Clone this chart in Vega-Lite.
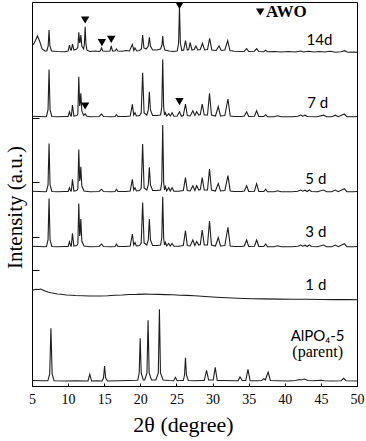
{
"$schema": "https://vega.github.io/schema/vega-lite/v6.json",
"width": 325, "height": 384,
"autosize": {"type": "none"},
"padding": {"left": 32, "top": 2, "right": 9, "bottom": 55},
"config": {
"view": {"stroke": "black", "strokeWidth": 1},
"background": "white",
"axis": {"grid": false, "tickColor": "black", "domainColor": "black", "labelColor": "black", "titleColor": "black", "labelFont": "Liberation Serif, Times New Roman, DejaVu Serif, serif", "titleFont": "Liberation Serif, Times New Roman, DejaVu Serif, serif", "titleFontWeight": "normal", "labelOverlap": false, "labelFlush": false},
"axisX": {"labelFontSize": 14, "titleFontSize": 22, "tickSize": -3, "labelPadding": 9, "titlePadding": 8, "titleX": 151},
"axisY": {"titleFontSize": 21, "tickSize": -7, "titlePadding": 6, "labels": false, "titleY": 205}
},
"datasets": {
"xrd": [
{"s":"parent","x":5,"y":5.5},{"s":"parent","x":6.5,"y":5.3},{"s":"parent","x":7.2,"y":5.2},{"s":"parent","x":7.45,"y":12},{"s":"parent","x":7.62,"y":57.7},{"s":"parent","x":7.79,"y":12},{"s":"parent","x":8.05,"y":5.2},{"s":"parent","x":9.5,"y":5},{"s":"parent","x":11,"y":5.2},{"s":"parent","x":12.5,"y":5},{"s":"parent","x":12.75,"y":5},{"s":"parent","x":13.0,"y":11.7},{"s":"parent","x":13.25,"y":5},{"s":"parent","x":14,"y":5.3},{"s":"parent","x":14.7,"y":5},{"s":"parent","x":14.9,"y":8},{"s":"parent","x":15.05,"y":20},{"s":"parent","x":15.2,"y":8},{"s":"parent","x":15.45,"y":5},{"s":"parent","x":17,"y":5.2},{"s":"parent","x":18.5,"y":5.5},{"s":"parent","x":19.5,"y":5.8},{"s":"parent","x":19.65,"y":6},{"s":"parent","x":19.84,"y":13},{"s":"parent","x":19.98,"y":47.7},{"s":"parent","x":20.12,"y":13},{"s":"parent","x":20.4,"y":6},{"s":"parent","x":20.6,"y":6},{"s":"parent","x":20.92,"y":13},{"s":"parent","x":21.07,"y":65.7},{"s":"parent","x":21.22,"y":13},{"s":"parent","x":21.55,"y":6},{"s":"parent","x":22.15,"y":6},{"s":"parent","x":22.49,"y":13},{"s":"parent","x":22.64,"y":76.7},{"s":"parent","x":22.79,"y":13},{"s":"parent","x":23.15,"y":6},{"s":"parent","x":24.0,"y":5.5},{"s":"parent","x":24.6,"y":5.3},{"s":"parent","x":24.86,"y":8.7},{"s":"parent","x":25.1,"y":5.3},{"s":"parent","x":25.7,"y":5.5},{"s":"parent","x":25.95,"y":5.5},{"s":"parent","x":26.12,"y":11},{"s":"parent","x":26.25,"y":28.3},{"s":"parent","x":26.38,"y":11},{"s":"parent","x":26.65,"y":5.5},{"s":"parent","x":27.5,"y":5.3},{"s":"parent","x":28.5,"y":5.5},{"s":"parent","x":28.85,"y":5.5},{"s":"parent","x":29.17,"y":15.7},{"s":"parent","x":29.45,"y":6},{"s":"parent","x":30.1,"y":6},{"s":"parent","x":30.37,"y":18.7},{"s":"parent","x":30.65,"y":5.5},{"s":"parent","x":31.5,"y":5.5},{"s":"parent","x":33,"y":5.3},{"s":"parent","x":33.55,"y":5.3},{"s":"parent","x":33.8,"y":9},{"s":"parent","x":34.1,"y":5.5},{"s":"parent","x":34.6,"y":5.5},{"s":"parent","x":34.9,"y":16.7},{"s":"parent","x":35.2,"y":5.3},{"s":"parent","x":36.2,"y":5.2},{"s":"parent","x":36.8,"y":5.5},{"s":"parent","x":37.1,"y":7.3},{"s":"parent","x":37.3,"y":6},{"s":"parent","x":37.7,"y":14},{"s":"parent","x":38.0,"y":5.5},{"s":"parent","x":39,"y":5.3},{"s":"parent","x":40.5,"y":5},{"s":"parent","x":41.5,"y":5.5},{"s":"parent","x":42.0,"y":6.5},{"s":"parent","x":42.3,"y":6},{"s":"parent","x":42.7,"y":7},{"s":"parent","x":43.2,"y":5.5},{"s":"parent","x":44,"y":5.3},{"s":"parent","x":45,"y":5.8},{"s":"parent","x":45.5,"y":5.2},{"s":"parent","x":46.5,"y":5},{"s":"parent","x":47.8,"y":5.3},{"s":"parent","x":48.15,"y":7.7},{"s":"parent","x":48.5,"y":5.2},{"s":"parent","x":50,"y":5},

{"s":"1d","x":5,"y":95.3},{"s":"1d","x":5.3,"y":96.2},{"s":"1d","x":5.6,"y":96.8},{"s":"1d","x":5.9,"y":96.5},{"s":"1d","x":6.2,"y":96.9},{"s":"1d","x":6.5,"y":96},{"s":"1d","x":6.8,"y":95},{"s":"1d","x":7.2,"y":94},{"s":"1d","x":7.6,"y":93.2},{"s":"1d","x":8,"y":92.8},{"s":"1d","x":8.5,"y":92},{"s":"1d","x":9,"y":91.7},{"s":"1d","x":9.8,"y":91},{"s":"1d","x":10.5,"y":90.8},{"s":"1d","x":11,"y":90.5},{"s":"1d","x":12,"y":90.3},{"s":"1d","x":13,"y":90},{"s":"1d","x":14.4,"y":90},{"s":"1d","x":15.5,"y":90.3},{"s":"1d","x":16.5,"y":90.8},{"s":"1d","x":17.5,"y":91},{"s":"1d","x":18.5,"y":91.5},{"s":"1d","x":19.5,"y":91.6},{"s":"1d","x":20.5,"y":91.9},{"s":"1d","x":21.5,"y":91.7},{"s":"1d","x":22.5,"y":91.6},{"s":"1d","x":23.5,"y":91.4},{"s":"1d","x":24.5,"y":91.2},{"s":"1d","x":25.5,"y":90.8},{"s":"1d","x":26.5,"y":90.6},{"s":"1d","x":27.5,"y":90.2},{"s":"1d","x":28.5,"y":89.7},{"s":"1d","x":29.5,"y":89.2},{"s":"1d","x":30.6,"y":88.7},{"s":"1d","x":32,"y":88.2},{"s":"1d","x":33.5,"y":87.7},{"s":"1d","x":35.3,"y":87.3},{"s":"1d","x":37,"y":87.1},{"s":"1d","x":39,"y":86.9},{"s":"1d","x":41,"y":86.8},{"s":"1d","x":43,"y":86.7},{"s":"1d","x":45,"y":86.5},{"s":"1d","x":47,"y":86.4},{"s":"1d","x":49,"y":86.4},{"s":"1d","x":50,"y":86.3},

{"s":"3d","x":5,"y":139.8},{"s":"3d","x":6,"y":139.5},{"s":"3d","x":6.8,"y":139.3},{"s":"3d","x":7.0,"y":139.5},{"s":"3d","x":7.22,"y":146},{"s":"3d","x":7.36,"y":187.6},{"s":"3d","x":7.5,"y":146},{"s":"3d","x":7.75,"y":139.5},{"s":"3d","x":8.5,"y":139.3},{"s":"3d","x":9.5,"y":139.5},{"s":"3d","x":10.0,"y":139.5},{"s":"3d","x":10.19,"y":144.3},{"s":"3d","x":10.35,"y":140},{"s":"3d","x":10.45,"y":140},{"s":"3d","x":10.6,"y":152.6},{"s":"3d","x":10.8,"y":140},{"s":"3d","x":11.2,"y":140.5},{"s":"3d","x":11.35,"y":142},{"s":"3d","x":11.48,"y":182.6},{"s":"3d","x":11.6,"y":150},{"s":"3d","x":11.66,"y":152},{"s":"3d","x":11.76,"y":167},{"s":"3d","x":11.9,"y":145},{"s":"3d","x":12.2,"y":140},{"s":"3d","x":13,"y":139.3},{"s":"3d","x":14.3,"y":139.5},{"s":"3d","x":14.63,"y":142},{"s":"3d","x":14.9,"y":139.5},{"s":"3d","x":16,"y":139.3},{"s":"3d","x":16.5,"y":139.5},{"s":"3d","x":16.7,"y":142},{"s":"3d","x":16.9,"y":139.5},{"s":"3d","x":18,"y":139.5},{"s":"3d","x":18.6,"y":140},{"s":"3d","x":18.9,"y":152},{"s":"3d","x":19.08,"y":141},{"s":"3d","x":19.26,"y":143.5},{"s":"3d","x":19.45,"y":140},{"s":"3d","x":19.9,"y":140.5},{"s":"3d","x":20.12,"y":143},{"s":"3d","x":20.32,"y":183.6},{"s":"3d","x":20.52,"y":143},{"s":"3d","x":20.9,"y":141},{"s":"3d","x":21.1,"y":146},{"s":"3d","x":21.25,"y":167},{"s":"3d","x":21.4,"y":146},{"s":"3d","x":21.7,"y":140.5},{"s":"3d","x":22.3,"y":140.5},{"s":"3d","x":22.8,"y":141},{"s":"3d","x":22.97,"y":148},{"s":"3d","x":23.1,"y":189.3},{"s":"3d","x":23.23,"y":148},{"s":"3d","x":23.35,"y":141},{"s":"3d","x":23.47,"y":143.5},{"s":"3d","x":23.65,"y":140},{"s":"3d","x":23.93,"y":142.5},{"s":"3d","x":24.15,"y":140},{"s":"3d","x":24.4,"y":142.5},{"s":"3d","x":24.65,"y":139.8},{"s":"3d","x":25.3,"y":139.8},{"s":"3d","x":25.95,"y":140.5},{"s":"3d","x":26.25,"y":155.3},{"s":"3d","x":26.5,"y":140.5},{"s":"3d","x":26.9,"y":140},{"s":"3d","x":27.27,"y":146},{"s":"3d","x":27.55,"y":140.5},{"s":"3d","x":27.8,"y":144.5},{"s":"3d","x":28.1,"y":141},{"s":"3d","x":28.3,"y":141.5},{"s":"3d","x":28.57,"y":156},{"s":"3d","x":28.85,"y":141},{"s":"3d","x":29.3,"y":141},{"s":"3d","x":29.58,"y":165},{"s":"3d","x":29.85,"y":141},{"s":"3d","x":30.4,"y":140},{"s":"3d","x":30.79,"y":148.3},{"s":"3d","x":31.1,"y":140},{"s":"3d","x":31.7,"y":140.5},{"s":"3d","x":32.13,"y":158.6},{"s":"3d","x":32.45,"y":140},{"s":"3d","x":33,"y":139.5},{"s":"3d","x":34,"y":139.5},{"s":"3d","x":34.4,"y":140},{"s":"3d","x":34.72,"y":146},{"s":"3d","x":35,"y":139.5},{"s":"3d","x":35.8,"y":139.8},{"s":"3d","x":36.1,"y":146},{"s":"3d","x":36.4,"y":139.5},{"s":"3d","x":37.1,"y":139.5},{"s":"3d","x":37.36,"y":142},{"s":"3d","x":37.6,"y":139.3},{"s":"3d","x":38.5,"y":139.3},{"s":"3d","x":39,"y":140.3},{"s":"3d","x":39.5,"y":139.3},{"s":"3d","x":41,"y":139.3},{"s":"3d","x":41.8,"y":139.8},{"s":"3d","x":42.2,"y":141},{"s":"3d","x":42.5,"y":139.8},{"s":"3d","x":42.8,"y":140.8},{"s":"3d","x":43.1,"y":139.5},{"s":"3d","x":43.4,"y":141},{"s":"3d","x":43.7,"y":139.5},{"s":"3d","x":44.5,"y":139.3},{"s":"3d","x":45.37,"y":141},{"s":"3d","x":45.8,"y":139.3},{"s":"3d","x":46.5,"y":139.3},{"s":"3d","x":47,"y":141},{"s":"3d","x":47.4,"y":139.3},{"s":"3d","x":48.24,"y":142.3},{"s":"3d","x":48.6,"y":139.3},{"s":"3d","x":49.5,"y":139.3},{"s":"3d","x":50,"y":139.5},

{"s":"5d","x":5,"y":194.8},{"s":"5d","x":6,"y":194.5},{"s":"5d","x":6.8,"y":194.3},{"s":"5d","x":7.0,"y":194.5},{"s":"5d","x":7.22,"y":201},{"s":"5d","x":7.36,"y":242.6},{"s":"5d","x":7.5,"y":201},{"s":"5d","x":7.75,"y":194.5},{"s":"5d","x":8.5,"y":194.3},{"s":"5d","x":9.5,"y":194.5},{"s":"5d","x":10,"y":194.5},{"s":"5d","x":10.19,"y":198.3},{"s":"5d","x":10.35,"y":195},{"s":"5d","x":10.45,"y":195},{"s":"5d","x":10.6,"y":206.6},{"s":"5d","x":10.8,"y":195},{"s":"5d","x":11.2,"y":195.5},{"s":"5d","x":11.35,"y":197},{"s":"5d","x":11.48,"y":236.6},{"s":"5d","x":11.6,"y":205},{"s":"5d","x":11.66,"y":207},{"s":"5d","x":11.76,"y":219.3},{"s":"5d","x":11.9,"y":200},{"s":"5d","x":12.2,"y":195},{"s":"5d","x":13,"y":194.3},{"s":"5d","x":14.3,"y":194.5},{"s":"5d","x":14.63,"y":196.8},{"s":"5d","x":14.9,"y":194.5},{"s":"5d","x":16,"y":194.3},{"s":"5d","x":16.5,"y":194.5},{"s":"5d","x":16.7,"y":196.8},{"s":"5d","x":16.9,"y":194.5},{"s":"5d","x":18,"y":194.5},{"s":"5d","x":18.6,"y":195},{"s":"5d","x":18.9,"y":206.6},{"s":"5d","x":19.08,"y":196},{"s":"5d","x":19.26,"y":198.3},{"s":"5d","x":19.45,"y":195},{"s":"5d","x":19.9,"y":195.5},{"s":"5d","x":20.12,"y":198},{"s":"5d","x":20.32,"y":242},{"s":"5d","x":20.52,"y":198},{"s":"5d","x":20.9,"y":196},{"s":"5d","x":21.1,"y":201},{"s":"5d","x":21.25,"y":218.6},{"s":"5d","x":21.4,"y":201},{"s":"5d","x":21.7,"y":195.5},{"s":"5d","x":22.3,"y":195.5},{"s":"5d","x":22.8,"y":196},{"s":"5d","x":22.97,"y":204},{"s":"5d","x":23.1,"y":261},{"s":"5d","x":23.23,"y":204},{"s":"5d","x":23.35,"y":196},{"s":"5d","x":23.47,"y":199.3},{"s":"5d","x":23.65,"y":195},{"s":"5d","x":23.93,"y":198.3},{"s":"5d","x":24.15,"y":195},{"s":"5d","x":24.4,"y":198.3},{"s":"5d","x":24.65,"y":194.8},{"s":"5d","x":25.3,"y":194.8},{"s":"5d","x":25.95,"y":195.5},{"s":"5d","x":26.25,"y":208.3},{"s":"5d","x":26.5,"y":195.5},{"s":"5d","x":26.9,"y":195},{"s":"5d","x":27.27,"y":200.3},{"s":"5d","x":27.55,"y":195.5},{"s":"5d","x":27.8,"y":200.3},{"s":"5d","x":28.1,"y":196},{"s":"5d","x":28.3,"y":196.5},{"s":"5d","x":28.57,"y":208.3},{"s":"5d","x":28.85,"y":196},{"s":"5d","x":29.3,"y":196},{"s":"5d","x":29.58,"y":217},{"s":"5d","x":29.85,"y":196},{"s":"5d","x":30.4,"y":195},{"s":"5d","x":30.79,"y":202.6},{"s":"5d","x":31.1,"y":195},{"s":"5d","x":31.7,"y":195.5},{"s":"5d","x":32.13,"y":210.3},{"s":"5d","x":32.45,"y":195},{"s":"5d","x":33,"y":194.5},{"s":"5d","x":34,"y":194.5},{"s":"5d","x":34.4,"y":195},{"s":"5d","x":34.72,"y":200.3},{"s":"5d","x":35,"y":194.5},{"s":"5d","x":35.8,"y":194.8},{"s":"5d","x":36.1,"y":202.3},{"s":"5d","x":36.4,"y":194.5},{"s":"5d","x":37.1,"y":194.5},{"s":"5d","x":37.36,"y":196.8},{"s":"5d","x":37.6,"y":194.3},{"s":"5d","x":38.5,"y":194.3},{"s":"5d","x":39,"y":195.3},{"s":"5d","x":39.5,"y":194.3},{"s":"5d","x":41,"y":194.3},{"s":"5d","x":41.8,"y":194.8},{"s":"5d","x":42.2,"y":196},{"s":"5d","x":42.5,"y":194.8},{"s":"5d","x":42.8,"y":195.8},{"s":"5d","x":43.1,"y":194.5},{"s":"5d","x":43.4,"y":196},{"s":"5d","x":43.7,"y":194.5},{"s":"5d","x":44.5,"y":194.3},{"s":"5d","x":45.37,"y":196},{"s":"5d","x":45.8,"y":194.3},{"s":"5d","x":46.5,"y":194.3},{"s":"5d","x":47,"y":196},{"s":"5d","x":47.4,"y":194.3},{"s":"5d","x":48.24,"y":197.3},{"s":"5d","x":48.6,"y":194.3},{"s":"5d","x":49.5,"y":194.3},{"s":"5d","x":50,"y":194.5},

{"s":"7d","x":5,"y":269.8},{"s":"7d","x":6,"y":269.5},{"s":"7d","x":6.8,"y":269.3},{"s":"7d","x":7.0,"y":269.5},{"s":"7d","x":7.22,"y":276},{"s":"7d","x":7.36,"y":316.6},{"s":"7d","x":7.5,"y":276},{"s":"7d","x":7.75,"y":269.5},{"s":"7d","x":8.5,"y":269.3},{"s":"7d","x":9.5,"y":269.5},{"s":"7d","x":10,"y":269.5},{"s":"7d","x":10.19,"y":274.3},{"s":"7d","x":10.35,"y":270},{"s":"7d","x":10.45,"y":270},{"s":"7d","x":10.6,"y":281},{"s":"7d","x":10.8,"y":270},{"s":"7d","x":11.2,"y":270.5},{"s":"7d","x":11.35,"y":272},{"s":"7d","x":11.48,"y":309.3},{"s":"7d","x":11.6,"y":280},{"s":"7d","x":11.66,"y":282},{"s":"7d","x":11.76,"y":292.6},{"s":"7d","x":11.9,"y":275},{"s":"7d","x":12.15,"y":270.5},{"s":"7d","x":12.36,"y":272.3},{"s":"7d","x":12.55,"y":270},{"s":"7d","x":13,"y":269.3},{"s":"7d","x":14.3,"y":269.5},{"s":"7d","x":14.63,"y":272},{"s":"7d","x":14.9,"y":269.5},{"s":"7d","x":16,"y":269.3},{"s":"7d","x":16.5,"y":269.5},{"s":"7d","x":16.7,"y":271.3},{"s":"7d","x":16.9,"y":269.5},{"s":"7d","x":18,"y":269.5},{"s":"7d","x":18.6,"y":270},{"s":"7d","x":18.9,"y":281.6},{"s":"7d","x":19.08,"y":271},{"s":"7d","x":19.26,"y":273.3},{"s":"7d","x":19.45,"y":270},{"s":"7d","x":19.9,"y":270.5},{"s":"7d","x":20.12,"y":273},{"s":"7d","x":20.32,"y":313.3},{"s":"7d","x":20.52,"y":273},{"s":"7d","x":20.9,"y":271},{"s":"7d","x":21.1,"y":276},{"s":"7d","x":21.25,"y":294.3},{"s":"7d","x":21.4,"y":276},{"s":"7d","x":21.7,"y":270.5},{"s":"7d","x":22.3,"y":270.5},{"s":"7d","x":22.8,"y":271},{"s":"7d","x":22.97,"y":279},{"s":"7d","x":23.1,"y":326.6},{"s":"7d","x":23.23,"y":279},{"s":"7d","x":23.35,"y":271},{"s":"7d","x":23.47,"y":273.3},{"s":"7d","x":23.65,"y":270},{"s":"7d","x":23.93,"y":272.3},{"s":"7d","x":24.15,"y":270},{"s":"7d","x":24.4,"y":273.3},{"s":"7d","x":24.65,"y":269.8},{"s":"7d","x":25.1,"y":270},{"s":"7d","x":25.42,"y":274.3},{"s":"7d","x":25.7,"y":269.8},{"s":"7d","x":25.95,"y":270.5},{"s":"7d","x":26.25,"y":282},{"s":"7d","x":26.5,"y":270.5},{"s":"7d","x":26.9,"y":270},{"s":"7d","x":27.27,"y":275.3},{"s":"7d","x":27.55,"y":270.5},{"s":"7d","x":27.8,"y":274.3},{"s":"7d","x":28.1,"y":271},{"s":"7d","x":28.3,"y":271.5},{"s":"7d","x":28.57,"y":282},{"s":"7d","x":28.85,"y":271},{"s":"7d","x":29.3,"y":271},{"s":"7d","x":29.58,"y":292.6},{"s":"7d","x":29.85,"y":271},{"s":"7d","x":30.4,"y":270},{"s":"7d","x":30.79,"y":279.3},{"s":"7d","x":31.1,"y":270},{"s":"7d","x":31.7,"y":270.5},{"s":"7d","x":32.13,"y":287},{"s":"7d","x":32.45,"y":270},{"s":"7d","x":33,"y":269.5},{"s":"7d","x":34,"y":269.5},{"s":"7d","x":34.4,"y":270},{"s":"7d","x":34.72,"y":274.3},{"s":"7d","x":35,"y":269.5},{"s":"7d","x":35.8,"y":269.8},{"s":"7d","x":36.1,"y":275.3},{"s":"7d","x":36.4,"y":269.5},{"s":"7d","x":37.1,"y":269.5},{"s":"7d","x":37.36,"y":271.3},{"s":"7d","x":37.6,"y":269.3},{"s":"7d","x":38.5,"y":269.3},{"s":"7d","x":39,"y":270.3},{"s":"7d","x":39.5,"y":269.3},{"s":"7d","x":41,"y":269.3},{"s":"7d","x":41.8,"y":269.8},{"s":"7d","x":42.2,"y":271},{"s":"7d","x":42.5,"y":269.8},{"s":"7d","x":42.8,"y":270.8},{"s":"7d","x":43.1,"y":269.5},{"s":"7d","x":44.5,"y":269.3},{"s":"7d","x":45.37,"y":270.8},{"s":"7d","x":45.8,"y":269.3},{"s":"7d","x":46.5,"y":269.3},{"s":"7d","x":47,"y":270.8},{"s":"7d","x":47.4,"y":269.3},{"s":"7d","x":48.24,"y":272},{"s":"7d","x":48.6,"y":269.3},{"s":"7d","x":49.5,"y":269.3},{"s":"7d","x":50,"y":269.5},

{"s":"14d","x":5,"y":342.5},{"s":"14d","x":5.2,"y":341.5},{"s":"14d","x":5.45,"y":345},{"s":"14d","x":5.75,"y":350},{"s":"14d","x":6.05,"y":345},{"s":"14d","x":6.4,"y":337},{"s":"14d","x":6.8,"y":335},{"s":"14d","x":7.05,"y":335},{"s":"14d","x":7.24,"y":340},{"s":"14d","x":7.36,"y":356},{"s":"14d","x":7.48,"y":340},{"s":"14d","x":7.7,"y":335},{"s":"14d","x":8.5,"y":334.5},{"s":"14d","x":9.5,"y":334.3},{"s":"14d","x":10,"y":335},{"s":"14d","x":10.19,"y":341},{"s":"14d","x":10.35,"y":336},{"s":"14d","x":10.45,"y":336},{"s":"14d","x":10.6,"y":342},{"s":"14d","x":10.8,"y":336},{"s":"14d","x":11.2,"y":337},{"s":"14d","x":11.35,"y":339},{"s":"14d","x":11.48,"y":353.6},{"s":"14d","x":11.6,"y":343},{"s":"14d","x":11.66,"y":344},{"s":"14d","x":11.76,"y":351},{"s":"14d","x":11.9,"y":340},{"s":"14d","x":12.15,"y":337},{"s":"14d","x":12.25,"y":342},{"s":"14d","x":12.36,"y":359.3},{"s":"14d","x":12.47,"y":342},{"s":"14d","x":12.6,"y":336},{"s":"14d","x":13,"y":334.5},{"s":"14d","x":13.8,"y":335},{"s":"14d","x":14.2,"y":334.5},{"s":"14d","x":14.45,"y":335},{"s":"14d","x":14.63,"y":338},{"s":"14d","x":14.8,"y":335},{"s":"14d","x":15.3,"y":334.8},{"s":"14d","x":15.8,"y":335},{"s":"14d","x":15.97,"y":340},{"s":"14d","x":16.15,"y":335},{"s":"14d","x":16.5,"y":335},{"s":"14d","x":16.7,"y":337},{"s":"14d","x":16.9,"y":335},{"s":"14d","x":17.5,"y":334.8},{"s":"14d","x":18,"y":335.5},{"s":"14d","x":18.5,"y":335},{"s":"14d","x":18.9,"y":341.6},{"s":"14d","x":19.1,"y":335.5},{"s":"14d","x":19.26,"y":338},{"s":"14d","x":19.5,"y":335},{"s":"14d","x":19.9,"y":335.5},{"s":"14d","x":20.15,"y":337},{"s":"14d","x":20.32,"y":351},{"s":"14d","x":20.5,"y":338},{"s":"14d","x":20.8,"y":337},{"s":"14d","x":21.1,"y":340},{"s":"14d","x":21.25,"y":348.6},{"s":"14d","x":21.4,"y":340},{"s":"14d","x":21.7,"y":336},{"s":"14d","x":22.3,"y":336},{"s":"14d","x":22.8,"y":337},{"s":"14d","x":23.0,"y":341},{"s":"14d","x":23.1,"y":350},{"s":"14d","x":23.2,"y":341},{"s":"14d","x":23.4,"y":336},{"s":"14d","x":24,"y":335},{"s":"14d","x":24.5,"y":334.5},{"s":"14d","x":25.1,"y":335},{"s":"14d","x":25.3,"y":343},{"s":"14d","x":25.42,"y":379.3},{"s":"14d","x":25.54,"y":343},{"s":"14d","x":25.75,"y":335.5},{"s":"14d","x":26.0,"y":336},{"s":"14d","x":26.25,"y":345.3},{"s":"14d","x":26.5,"y":336},{"s":"14d","x":26.7,"y":336.5},{"s":"14d","x":26.9,"y":343.3},{"s":"14d","x":27.15,"y":336},{"s":"14d","x":27.45,"y":336.5},{"s":"14d","x":27.7,"y":340},{"s":"14d","x":27.95,"y":336},{"s":"14d","x":28.3,"y":336.5},{"s":"14d","x":28.6,"y":342.7},{"s":"14d","x":28.9,"y":336},{"s":"14d","x":29.3,"y":336.5},{"s":"14d","x":29.6,"y":347.7},{"s":"14d","x":29.9,"y":336},{"s":"14d","x":30.5,"y":335.5},{"s":"14d","x":30.9,"y":340},{"s":"14d","x":31.2,"y":335.5},{"s":"14d","x":31.7,"y":336},{"s":"14d","x":32.1,"y":345.3},{"s":"14d","x":32.4,"y":335.5},{"s":"14d","x":33,"y":334.8},{"s":"14d","x":34,"y":334.5},{"s":"14d","x":34.4,"y":334.8},{"s":"14d","x":34.72,"y":337.3},{"s":"14d","x":35,"y":334.5},{"s":"14d","x":35.8,"y":334.8},{"s":"14d","x":36.1,"y":337.3},{"s":"14d","x":36.4,"y":334.5},{"s":"14d","x":37.1,"y":334.3},{"s":"14d","x":37.36,"y":335.8},{"s":"14d","x":37.6,"y":334.3},{"s":"14d","x":38.5,"y":334.5},{"s":"14d","x":39.5,"y":334},{"s":"14d","x":40.5,"y":334.5},{"s":"14d","x":41.5,"y":334},{"s":"14d","x":42.2,"y":335},{"s":"14d","x":42.6,"y":334},{"s":"14d","x":43.3,"y":334.8},{"s":"14d","x":44,"y":334},{"s":"14d","x":44.8,"y":334.5},{"s":"14d","x":45.5,"y":334},{"s":"14d","x":46.3,"y":334.7},{"s":"14d","x":47,"y":333.8},{"s":"14d","x":47.8,"y":334.3},{"s":"14d","x":48.3,"y":335.3},{"s":"14d","x":48.7,"y":333.8},{"s":"14d","x":49.5,"y":334},{"s":"14d","x":50,"y":333.7}
],
"awo": [
{"x":12.36,"y":366},{"x":14.68,"y":343.3},{"x":15.97,"y":346.7},{"x":25.42,"y":380.5},{"x":12.36,"y":280},{"x":25.42,"y":284.3},{"x":36.6,"y":374}
],
"sans": [
{"x":44.8,"y":346,"t":"14d"},{"x":44.55,"y":283,"t":"7 d"},{"x":44.3,"y":207,"t":"5 d"},{"x":44.3,"y":154.3,"t":"3 d"},{"x":44.3,"y":101,"t":"1 d"},{"x":44.55,"y":50,"t":"AlPO₄-5"}
],
"serif": [{"x":44.55,"y":34.3,"t":"(parent)"}],
"bold": [{"x":37.4,"y":374,"t":"AWO"}]
},
"encoding": {
"x": {"field": "x", "type": "quantitative", "scale": {"domain": [5, 50], "nice": false, "zero": false},
"axis": {"title": "2θ (degree)", "values": [5,10,15,20,25,30,35,40,45,50]}},
"y": {"field": "y", "type": "quantitative", "scale": {"domain": [0, 384], "nice": false, "zero": false},
"axis": {"title": "Intensity (a.u.)", "values": [116, 149, 204, 268]}}
},
"layer": [
{
"data": {"name": "xrd"},
"mark": {"type": "line", "color": "#1e1e1e", "strokeWidth": 1.1, "clip": true},
"encoding": {"detail": {"field": "s"}}
},
{
"data": {"name": "awo"},
"mark": {"type": "point", "shape": "triangle-down", "filled": true, "color": "black", "size": 70, "opacity": 1}
},
{
"data": {"name": "sans"},
"mark": {"type": "text", "font": "Lato", "fontSize": 15, "color": "black", "align": "center", "baseline": "middle"},
"encoding": {"text": {"field": "t"}}
},
{
"data": {"name": "serif"},
"mark": {"type": "text", "font": "Liberation Serif, Times New Roman, DejaVu Serif, serif", "fontSize": 16, "color": "black", "align": "center", "baseline": "middle"},
"encoding": {"text": {"field": "t"}}
},
{
"data": {"name": "bold"},
"mark": {"type": "text", "font": "Liberation Serif, Times New Roman, DejaVu Serif, serif", "fontSize": 17, "fontWeight": "bold", "color": "black", "align": "left", "baseline": "middle"},
"encoding": {"text": {"field": "t"}}
}
]
}
